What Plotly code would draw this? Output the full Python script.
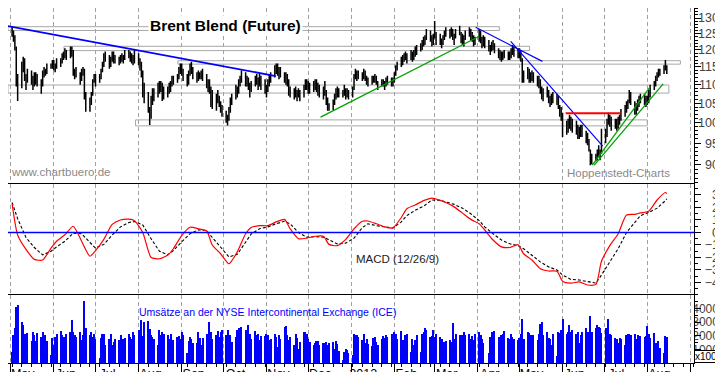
import numpy as np
import pandas as pd
import plotly.graph_objects as go

# ---------------- data ----------------
dates = pd.bdate_range("2011-05-02", "2012-08-15")

high = (
    [127.3, 126.0, 124.5, 121.0, 113.0, 116.5, 118.0, 117.5, 113.0, 114.5, 114.0, 112.5, 113.5, 113.5, 113.0, 111.5, 114.0, 115.0, 114.5, 116.0, 116.0, 117.0]  # May 11
    + [117.0, 116.0, 117.5, 117.5, 119.0, 119.5, 120.5, 120.0, 121.0, 121.0, 120.0, 114.5, 115.0, 113.5, 114.5, 115.0, 114.5, 108.0, 106.5, 108.0, 111.5, 113.0]  # Jun
    + [113.0, 113.0, 114.5, 116.5, 119.0, 119.5, 118.5, 118.0, 119.5, 119.5, 118.5, 118.0, 118.5, 119.0, 118.5, 120.0, 120.0, 119.5, 119.0, 118.5, 120.0]  # Jul
    + [119.0, 117.5, 116.5, 114.0, 110.5, 108.0, 104.0, 107.0, 109.0, 109.0, 110.5, 111.0, 111.0, 110.5, 109.5, 109.5, 110.5, 111.0, 112.5, 112.5, 113.0, 115.0, 116.0]  # Aug
    + [116.0, 114.5, 113.0, 114.0, 116.0, 116.5, 115.0, 113.5, 114.0, 113.5, 114.0, 114.5, 113.0, 111.5, 111.5, 109.5, 108.5, 107.5, 108.5, 107.0, 105.5, 104.5]  # Sep
    + [103.0, 102.0, 104.0, 106.5, 107.5, 110.0, 109.5, 111.5, 112.5, 114.0, 113.5, 112.5, 112.0, 110.5, 111.0, 112.5, 113.0, 112.0, 113.0, 112.5, 111.5]  # Oct
    + [110.0, 111.5, 113.0, 113.5, 115.5, 116.0, 116.0, 115.0, 115.0, 113.5, 113.5, 113.0, 111.5, 109.5, 109.0, 109.5, 108.5, 109.0, 108.5, 110.0, 111.5, 111.5]  # Nov
    + [111.0, 110.5, 111.0, 111.5, 111.5, 110.5, 110.0, 109.5, 111.0, 108.5, 106.5, 105.0, 106.0, 107.5, 109.0, 109.5, 109.0, 108.5, 110.0, 109.0, 109.0, 108.5]  # Dec
    + [109.5, 113.0, 114.5, 114.0, 114.0, 113.5, 114.5, 114.0, 112.5, 112.0, 112.5, 112.5, 113.0, 112.5, 111.0, 111.5, 111.5, 111.0, 112.0, 112.5, 112.0, 112.0]  # Jan 12
    + [113.5, 115.5, 116.5, 118.0, 118.5, 119.0, 119.5, 119.0, 120.0, 119.5, 120.0, 121.0, 121.5, 122.0, 123.0, 124.0, 124.5, 126.5, 126.0, 124.5, 125.0]  # Feb
    + [129.0, 125.5, 125.0, 123.5, 124.5, 126.0, 127.0, 126.5, 127.0, 126.5, 125.0, 126.5, 127.5, 125.5, 125.0, 124.5, 126.0, 127.0, 126.5, 125.5, 124.5, 124.0]  # Mar
    + [126.5, 126.0, 124.0, 124.5, 124.0, 123.0, 121.5, 122.5, 123.0, 122.0, 120.5, 120.0, 119.5, 119.5, 120.0, 119.5, 119.5, 120.5, 121.5, 121.0, 120.5]  # Apr
    + [120.5, 120.0, 117.5, 114.0, 115.0, 114.5, 113.5, 114.0, 113.5, 112.5, 112.5, 111.5, 109.5, 109.0, 109.5, 108.5, 107.0, 107.5, 108.0, 107.5, 107.0, 104.5, 104.0]  # May
    + [102.5, 100.5, 101.0, 102.0, 101.5, 101.0, 100.5, 99.5, 99.0, 99.5, 99.5, 98.0, 97.5, 96.0, 93.5, 92.5, 92.5, 93.5, 94.5, 93.5, 98.5]  # Jun
    + [98.5, 101.0, 102.5, 102.0, 101.5, 101.0, 101.0, 101.5, 102.0, 103.5, 104.5, 105.5, 106.0, 108.5, 108.0, 105.5, 105.0, 106.0, 107.0, 107.5, 107.5, 107.0]  # Jul
    + [107.0, 108.5, 110.0, 111.0, 112.5, 113.5, 114.5, 114.5, 115.5, 117.0, 115.5]  # Aug
)
low = (
    [124.0, 122.5, 119.8, 109.5, 105.6, 109.0, 113.5, 111.0, 108.5, 110.5, 110.0, 108.5, 109.5, 110.0, 109.5, 107.5, 109.5, 112.0, 112.5, 113.0, 114.5, 114.5]
    + [114.0, 113.5, 114.5, 115.0, 116.0, 117.0, 117.5, 117.0, 117.5, 118.0, 112.5, 111.5, 112.0, 110.0, 111.0, 112.5, 106.0, 102.8, 102.8, 104.5, 107.0, 110.5]
    + [109.5, 110.5, 111.5, 113.5, 115.0, 116.5, 114.5, 115.0, 116.5, 116.0, 116.0, 115.5, 116.0, 116.5, 116.0, 117.0, 117.5, 116.5, 116.0, 115.5, 116.0]
    + [115.5, 114.0, 112.0, 106.5, 105.0, 102.5, 99.4, 101.0, 104.5, 105.5, 106.5, 107.5, 108.0, 105.6, 106.0, 106.5, 107.5, 108.0, 109.5, 110.0, 110.5, 111.5, 113.0]
    + [112.5, 111.0, 109.5, 110.0, 112.5, 113.0, 111.5, 110.5, 111.0, 111.5, 111.5, 111.0, 109.0, 108.0, 107.5, 104.0, 103.5, 103.0, 105.0, 104.0, 102.5, 101.5]
    + [100.0, 99.3, 100.5, 102.5, 104.5, 106.0, 106.5, 107.5, 109.5, 110.5, 109.5, 109.5, 108.5, 106.5, 108.0, 109.5, 110.0, 108.5, 109.5, 108.5, 107.5]
    + [106.5, 108.0, 109.5, 110.5, 112.0, 113.0, 112.5, 111.5, 112.0, 110.5, 110.0, 109.5, 107.0, 106.5, 106.0, 106.5, 105.5, 106.5, 105.5, 106.5, 108.5, 108.5]
    + [107.5, 107.5, 108.0, 108.5, 108.0, 107.0, 106.5, 106.0, 107.0, 104.5, 103.0, 103.0, 103.2, 104.5, 106.0, 106.5, 106.5, 106.5, 107.0, 106.0, 106.5, 106.0]
    + [106.5, 108.5, 111.5, 111.0, 111.5, 111.0, 111.5, 111.0, 110.0, 109.5, 110.0, 110.5, 110.5, 110.0, 108.5, 109.5, 109.5, 108.5, 109.5, 110.0, 109.5, 109.5]
    + [110.5, 112.5, 114.0, 115.0, 115.5, 116.5, 117.0, 116.0, 117.0, 116.5, 117.0, 118.0, 118.5, 119.5, 120.0, 121.0, 121.5, 123.0, 122.5, 121.0, 121.5]
    + [123.5, 121.5, 121.5, 120.5, 121.5, 123.0, 124.0, 123.5, 124.0, 123.0, 121.5, 123.5, 124.5, 122.0, 121.5, 121.0, 123.0, 124.0, 123.0, 122.5, 121.0, 121.5]
    + [122.5, 122.0, 120.5, 121.0, 120.5, 119.5, 118.5, 119.5, 120.0, 119.0, 117.5, 117.0, 116.5, 117.0, 117.5, 117.0, 117.0, 117.5, 118.5, 118.0, 117.5]
    + [117.5, 116.5, 110.5, 110.5, 111.5, 110.5, 110.5, 111.0, 110.5, 109.5, 109.0, 107.5, 106.0, 105.5, 106.5, 105.0, 104.0, 104.5, 105.0, 104.5, 103.5, 101.5, 100.5]
    + [96.5, 97.0, 97.5, 98.5, 98.0, 97.5, 97.0, 96.0, 96.0, 96.5, 96.5, 95.0, 94.5, 93.0, 89.9, 90.1, 90.8, 91.0, 91.8, 91.0, 92.5]
    + [95.0, 96.5, 99.5, 99.0, 98.0, 98.5, 98.0, 98.5, 99.5, 100.5, 101.5, 102.5, 103.5, 105.0, 104.5, 102.0, 102.0, 103.0, 104.0, 105.0, 104.5, 104.0]
    + [104.5, 105.0, 106.5, 108.5, 109.5, 111.0, 112.0, 112.5, 113.0, 114.0, 113.0]
)
volume = (
    [800, 2050, 2600, 4150, 4250, 3050, 2800, 2150, 2000, 2200, 1600, 2250, 2050, 1650, 2200, 1900, 2250, 1350, 2050, 1600, 600, 1850]
    + [1300, 1900, 2150, 2350, 2050, 1900, 1450, 2150, 2300, 3150, 2300, 2050, 1900, 2300, 1700, 2050, 4550, 2550, 2050, 2300, 1900, 2150]
    + [1800, 400, 1850, 2150, 2150, 1300, 1800, 2100, 1350, 1550, 1800, 1700, 2050, 1200, 1800, 1850, 2100, 1900, 1750, 2300, 2050]
    + [2400, 2100, 3150, 2000, 3000, 3100, 2500, 2050, 1900, 1800, 1300, 2450, 2050, 2300, 2150, 2050, 1800, 2150, 1550, 1700, 1900, 2000, 1800]
    + [2250, 2050, 700, 1600, 1900, 1800, 1450, 1450, 2300, 1850, 1300, 1850, 2150, 2050, 3050, 2300, 1800, 2050, 2350, 1900, 2250, 2400]
    + [2050, 2400, 1800, 2050, 1550, 1900, 2400, 2550, 2050, 2650, 2400, 1800, 2800, 2150, 1800, 2350, 2050, 2150, 1700, 1950, 2000]
    + [2150, 2050, 1700, 1800, 2150, 1900, 1200, 2050, 1800, 2650, 2700, 2050, 1700, 1900, 1300, 2150, 1850, 1000, 1550, 2300, 2300, 2150]
    + [1800, 1550, 1300, 1450, 1600, 1600, 1300, 1500, 1450, 1550, 1300, 1450, 1550, 1050, 1600, 1400, 900, 200, 800, 1050, 950, 700]
    + [600, 2100, 2050, 2050, 1900, 1700, 2150, 1500, 1800, 1400, 1250, 1850, 1900, 1550, 1300, 1800, 2000, 1850, 2050, 1900, 2150, 1950]
    + [2300, 2150, 1800, 2350, 1700, 1300, 2050, 2150, 800, 1800, 1300, 1700, 2050, 800, 2150, 2300, 2550, 2400, 1900, 2000, 2400]
    + [1900, 2150, 1900, 1800, 1450, 1550, 1600, 1700, 1550, 2950, 1800, 2150, 2050, 1800, 2050, 2300, 2050, 2150, 1800, 2000, 1700, 2100]
    + [2300, 2050, 1800, 1450, 0, 700, 1900, 2300, 2250, 2350, 1900, 1800, 2050, 2150, 2350, 1850, 1800, 2100, 1900, 1800, 1700]
    + [1850, 2150, 3250, 1800, 2300, 2200, 2050, 1800, 2050, 1700, 2150, 2900, 3000, 2050, 2300, 1850, 1800, 1300, 2150, 500, 2300, 2200, 2400]
    + [3250, 2150, 2300, 2800, 2300, 2400, 2150, 2300, 1450, 2050, 2300, 2550, 2300, 2300, 3450, 2300, 2550, 2800, 2650, 2550, 2200]
    + [2550, 1200, 3200, 2150, 2050, 1850, 1800, 1450, 1850, 1800, 1300, 2050, 2150, 2150, 2050, 2150, 1800, 2050, 1800, 2000, 1900, 1950]
    + [2700, 2100, 1850, 2200, 1450, 1450, 1600, 1100, 700, 1950, 1900]
)

# MACD (12/26/9) read every 4 trading days + last day
macd_idx = list(range(0, 337, 4)) + [337]
macd = [2.3, -0.2, -1.35, -2.15, -2.2, -1.25, -0.7, -0.18, 0.5, -0.7,
        -1.9, -1.45, -0.55, 0.65, 1.0, 1.07, 0.95, 0.0, -2.0, -2.1,
        -1.8, -1.3, -0.25, 0.42, 0.3, 0.12, -1.0, -1.7, -2.5, -1.55,
        -0.1, 0.4, 0.55, 0.55, 0.85, 1.05, 0.3, -0.5, -0.45, -0.3,
        -0.3, -0.95, -1.05, -0.55, 0.3, 0.9, 0.92, 0.7, 0.45, 0.37,
        1.2, 1.9, 2.2, 2.55, 2.75, 2.57, 2.4, 2.05, 1.55, 1.05,
        0.7, 0.2, -0.6, -1.15, -1.2, -0.98, -1.7, -2.2, -2.9, -3.08,
        -3.1, -3.9, -4.05, -3.95, -4.2, -4.15, -2.3, -1.05, -0.1, 1.4,
        1.45, 1.57, 1.7, 2.6, 3.2, 3.1]
signal = [2.4, 1.1, -0.4, -1.2, -1.79, -1.5, -1.15, -0.7, -0.05, -0.1,
          -0.8, -1.25, -0.95, -0.2, 0.45, 0.8, 0.88, 0.6, -0.5, -1.5,
          -1.78, -1.45, -0.75, -0.1, 0.22, 0.15, -0.4, -1.2, -1.95, -1.75,
          -0.8, -0.12, 0.3, 0.45, 0.7, 0.9, 0.7, 0.0, -0.37, -0.33,
          -0.37, -0.6, -0.91, -0.85, -0.45, 0.4, 0.7, 0.55, 0.44, 0.36,
          0.85, 1.35, 1.78, 2.1, 2.6, 2.57, 2.45, 2.25, 1.95, 1.5,
          0.95, 0.45, -0.1, -0.6, -0.9, -1.05, -1.3, -1.85, -2.35, -2.75,
          -3.0, -3.4, -3.75, -3.8, -3.9, -4.05, -3.4, -2.4, -1.3, 0.0,
          0.85, 1.35, 1.6, 1.95, 2.55, 2.7]

month_ticks = ["2011-05-01", "2011-06-01", "2011-07-01", "2011-08-01", "2011-09-01",
               "2011-10-01", "2011-11-01", "2011-12-01", "2012-01-01", "2012-02-01",
               "2012-03-01", "2012-04-01", "2012-05-01", "2012-06-01", "2012-07-01",
               "2012-08-01", "2012-09-01"]
month_labels = ["May", "Jun", "Jul", "Aug", "Sep", "Oct", "Nov", "Dec", "2012", "Feb",
                "Mar", "Apr", "May", "Jun", "Jul", "Aug", ""]
price_ticks = [90, 95, 100, 105, 110, 115, 120, 125, 130]
price_minor = list(range(86, 134))
macd_ticks = [-4, -3, -2, -1, 0, 1, 2, 3]
vol_ticks = [1000, 2000, 3000, 4000]

# trend lines (start date, start price, end date, end price)
blue_lines = [("2011-04-29 01:00", 127.4, "2011-11-07 14:00", 112.4, 1.8),
              ("2012-03-30 12:00", 127.0, "2012-05-17 12:00", 116.6, 1.2),
              ("2012-04-24 17:00", 122.6, "2012-06-29 22:00", 94.3, 1.2)]
green_lines = [("2011-12-09 22:00", 101.4, "2012-04-01 19:00", 124.1),
               ("2012-06-22 10:00", 89.9, "2012-08-03 00:00", 109.4),
               ("2012-06-23 19:00", 89.9, "2012-08-12 10:00", 110.2)]
red_lines = [("2012-06-03 05:00", 102.4, "2012-07-12 17:00", 102.4)]
zones = [("2011-04-29 01:00", "2012-04-16 14:00", 126.0, 127.2),
         ("2011-06-08 07:00", "2012-05-08 07:00", 119.8, 121.1),
         ("2011-08-29 07:00", "2012-08-24 19:00", 115.8, 116.8),
         ("2011-04-29 01:00", "2012-08-16 12:00", 107.7, 109.9),
         ("2011-07-29 19:00", "2012-07-31 22:00", 99.2, 100.7)]

assert len(high) == len(dates) == len(low) == len(volume), (len(high), len(low), len(volume), len(dates))
assert len(macd) == len(macd_idx) == len(signal)

# ---------------- figure ----------------
FONT = "Liberation Sans, Arial, sans-serif"
X_RANGE = ["2011-04-29 01:20", "2012-09-03 22:00"]
XDOM = [0, 0.9495]
P_RANGE = [1.93323, 2.12483]
M_RANGE = [-5.0, 3.88]
V_RANGE = [0, 5000]
LAB_POS = 0.9875

fig = go.Figure()

for x0, x1, lo, hi in zones:
    fig.add_trace(go.Scatter(x=[x0, x1, x1, x0, x0], y=[lo, lo, hi, hi, lo], mode="lines",
                             line=dict(color="#a8a8a8", width=1), xaxis="x", yaxis="y",
                             hoverinfo="skip", showlegend=False))

bx, by = [], []
for d, h, l in zip(dates, high, low):
    bx += [d, d, None]
    by += [l, h, None]
fig.add_trace(go.Scatter(x=bx, y=by, mode="lines", line=dict(color="black", width=1.5),
                         xaxis="x", yaxis="y", hoverinfo="skip", showlegend=False))

for x0, p0, x1, p1, w in blue_lines:
    fig.add_trace(go.Scatter(x=[x0, x1], y=[p0, p1], mode="lines", line=dict(color="#0000ff", width=w),
                             xaxis="x", yaxis="y", hoverinfo="skip", showlegend=False))
for x0, p0, x1, p1 in green_lines:
    fig.add_trace(go.Scatter(x=[x0, x1], y=[p0, p1], mode="lines", line=dict(color="#00a000", width=1.3),
                             xaxis="x", yaxis="y", hoverinfo="skip", showlegend=False))
for x0, p0, x1, p1 in red_lines:
    fig.add_trace(go.Scatter(x=[x0, x1], y=[p0, p1], mode="lines", line=dict(color="#ff0000", width=2),
                             xaxis="x", yaxis="y", hoverinfo="skip", showlegend=False))

mdates = [dates[i] for i in macd_idx]
fig.add_trace(go.Scatter(x=mdates, y=signal, mode="lines", line=dict(color="black", width=1.1, dash="3px,2px"),
                         xaxis="x2", yaxis="y2", hoverinfo="skip", showlegend=False))
fig.add_trace(go.Scatter(x=mdates, y=macd, mode="lines",
                         line=dict(color="#ff0000", width=1.2, shape="spline", smoothing=0.6),
                         xaxis="x2", yaxis="y2", hoverinfo="skip", showlegend=False))

fig.add_trace(go.Bar(x=dates, y=volume, marker=dict(color="#0000ff", line=dict(width=0)),
                     width=0.75 * 86400000, xaxis="x3", yaxis="y3", hoverinfo="skip", showlegend=False))

# dummy traces for the label / tick axes
for xa, ya, yv in (("x", "y4", 100), ("x", "y5", 0), ("x", "y6", 0), ("x4", "y3", 0)):
    fig.add_trace(go.Scatter(x=[dates[0]], y=[yv], mode="none", xaxis=xa, yaxis=ya,
                             hoverinfo="skip", showlegend=False))

grid = dict(type="date", range=X_RANGE, domain=XDOM, tickmode="array", tickvals=month_ticks,
            showgrid=True, gridcolor="#a0a0a0", griddash="4px,3px", gridwidth=1, zeroline=False)
lab = dict(anchor="free", position=LAB_POS, side="right", ticklabelposition="inside", ticks="",
           showline=False, showgrid=False, zeroline=False)
rtick = dict(side="right", showline=True, linecolor="black", ticks="outside", ticklen=6,
             tickcolor="black", showticklabels=False, showgrid=False, zeroline=False)

fig.update_layout(
    width=723, height=372,
    margin=dict(l=0, r=0, t=0, b=17),
    paper_bgcolor="white", plot_bgcolor="white",
    font=dict(family=FONT, size=12, color="black"),
    bargap=0,
    xaxis=dict(**grid, anchor="y", showticklabels=False, ticks="", showline=False),
    xaxis2=dict(**grid, anchor="y2", showticklabels=False, ticks="", showline=True, mirror=True,
                linecolor="black", linewidth=1),
    xaxis3=dict(**grid, anchor="y3", ticktext=month_labels, showticklabels=True, ticks="",
                showline=True, mirror=True, linecolor="black", linewidth=1,
                ticklabelshift=12, ticklabelstandoff=-1, tickfont=dict(size=12.5, family=FONT),
                minor=dict(ticks="outside", ticklen=3, tickcolor="black", dtick=7 * 86400000,
                           tick0="2011-05-02", showgrid=False)),
    xaxis4=dict(type="date", range=X_RANGE, domain=XDOM, overlaying="x3", anchor="y3",
                tickmode="array", tickvals=month_ticks, showticklabels=False, ticks="outside",
                ticklen=17, tickcolor="black", tickwidth=1, showgrid=False, showline=False,
                zeroline=False),
    yaxis=dict(**rtick, type="log", range=P_RANGE, domain=[0.50423, 1], anchor="x",
               tickvals=price_ticks,
               minor=dict(tickvals=price_minor, ticks="outside", ticklen=3, tickcolor="black", showgrid=False)),
    yaxis2=dict(**rtick, range=M_RANGE, domain=[0.19155, 0.50423], anchor="x2", tickvals=macd_ticks,
                minor=dict(dtick=0.5, ticks="outside", ticklen=3, tickcolor="black", showgrid=False)),
    yaxis3=dict(**rtick, range=V_RANGE, domain=[0, 0.19155], anchor="x3", tickvals=vol_ticks,
                minor=dict(dtick=500, ticks="outside", ticklen=3, tickcolor="black", showgrid=False)),
    yaxis4=dict(**lab, type="log", range=P_RANGE, overlaying="y", tickvals=price_ticks,
                tickfont=dict(size=12.5)),
    yaxis5=dict(**lab, range=M_RANGE, overlaying="y2", tickvals=macd_ticks, tickfont=dict(size=12.5)),
    yaxis6=dict(**lab, range=V_RANGE, overlaying="y3", tickvals=vol_ticks, tickfont=dict(size=12)),
)

fig.add_shape(type="line", xref="x2 domain", yref="y2", x0=0, x1=1, y0=0, y1=0,
              line=dict(color="#0000ff", width=1.3))

ann = dict(showarrow=False, xanchor="center", yanchor="middle")
fig.add_annotation(text="<b>Brent Blend (Future)</b>", xref="x domain", yref="y domain",
                   x=0.3168, y=0.9034, bgcolor="white", borderpad=1,
                   font=dict(size=15.5, family=FONT, color="black"), **ann)
fig.add_annotation(text="www.chartbuero.de", xref="x domain", yref="y domain",
                   x=0.0772, y=0.071, font=dict(size=11.5, color="#8a8a8a"), **ann)
fig.add_annotation(text="Hoppenstedt-Charts", xref="x domain", yref="y domain",
                   x=0.890, y=0.063, font=dict(size=11.5, color="#8a8a8a"), **ann)
fig.add_annotation(text="MACD (12/26/9)", xref="x2 domain", yref="y2 domain",
                   x=0.567, y=0.324, font=dict(size=11.5, color="#222222"), **ann)
fig.add_annotation(text="Umsätze an der NYSE Intercontinental Exchange (ICE)", xref="x3 domain",
                   yref="y3 domain", x=0.378, y=0.75, font=dict(size=10.5, color="#0000ff"), **ann)
fig.add_annotation(text="x100", xref="paper", yref="paper", x=0.966, y=0.0183,
                   bordercolor="black", borderwidth=1, borderpad=0, bgcolor="white",
                   font=dict(size=10, color="black"), **ann)

fig.write_html("out.html")
